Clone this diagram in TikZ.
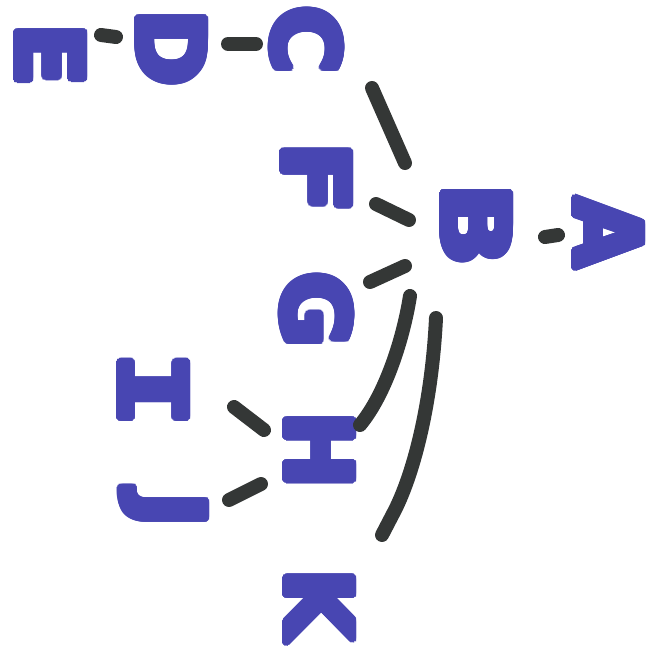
\documentclass[tikz,border=0pt]{standalone}
\usepackage{fontspec}
\usepackage{graphicx}
\usepackage{contour}
\setmainfont{DejaVu Sans}
\newfontfamily\monofam{DejaVu Sans Mono}
\definecolor{markerblue}{RGB}{72,70,178}
\definecolor{markerblack}{RGB}{52,55,54}
\contourlength{3.5pt}
\contournumber{24}
\newcommand{\mk}[1]{\contour{markerblue}{#1}}
\newcommand{\wide}[2]{\scalebox{#1}[1]{#2}}
\begin{document}
\begin{tikzpicture}[x=1pt,y=-1pt,
  letter/.style={inner sep=0pt, rotate=-90, text=markerblue,
    font=\fontsize{92}{92}\selectfont\bfseries},
  link/.style={draw=markerblack, line width=14pt, line cap=round}]
\useasboundingbox (0,0) rectangle (656,647);
\node[letter] (E) at (49,55) {\mk{E}};
\node[letter] (D) at (170,48) {\mk{D}};
\node[letter] (C) at (305,40) {\mk{C}};
\node[letter] (F) at (315,178) {\mk{\wide{1.15}{F}}};
\node[letter] (B) at (475,225) {\mk{\wide{1.2}{B}}};
\node[letter] (A) at (607,233) {\mk{A}};
\node[letter] (G) at (315,310) {\mk{G}};
\node[letter] (I) at (152,390) {\monofam\mk{\wide{1.4}{I}}};
\node[letter] (H) at (318,450) {\mk{H}};
\node[letter] (J) at (162,510) {\mk{J}};
\node[letter] (K) at (318,605) {\mk{K}};
% connector ends
\coordinate (ed1) at (101,35); \coordinate (ed2) at (116,37);
\coordinate (dc1) at (228,44); \coordinate (dc2) at (256,44);
\coordinate (cb1) at (372,88); \coordinate (cb2) at (405,163);
\coordinate (fb1) at (376,204); \coordinate (fb2) at (409,220);
\coordinate (gb1) at (370,282); \coordinate (gb2) at (405,266);
\coordinate (bh1) at (410,296); \coordinate (bh2) at (360,425);
\coordinate (bk1) at (436,318); \coordinate (bk2) at (382,535);
\coordinate (ab1) at (545,237); \coordinate (ab2) at (558,235);
\coordinate (ih1) at (234,407); \coordinate (ih2) at (264,430);
\coordinate (jh1) at (229,500); \coordinate (jh2) at (261,484);
\draw[link] (ed1) -- (ed2);
\draw[link] (dc1) -- (dc2);
\draw[link] (cb1) -- (cb2);
\draw[link] (fb1) -- (fb2);
\draw[link] (gb1) -- (gb2);
\draw[link] (bh1) .. controls (403,340) and (385,395) .. (bh2);
\draw[link] (bk1) .. controls (432,400) and (415,470) .. (395,510) -- (bk2);
\draw[link] (ab1) -- (ab2);
\draw[link] (ih1) -- (ih2);
\draw[link] (jh1) -- (jh2);
\end{tikzpicture}
\end{document}
